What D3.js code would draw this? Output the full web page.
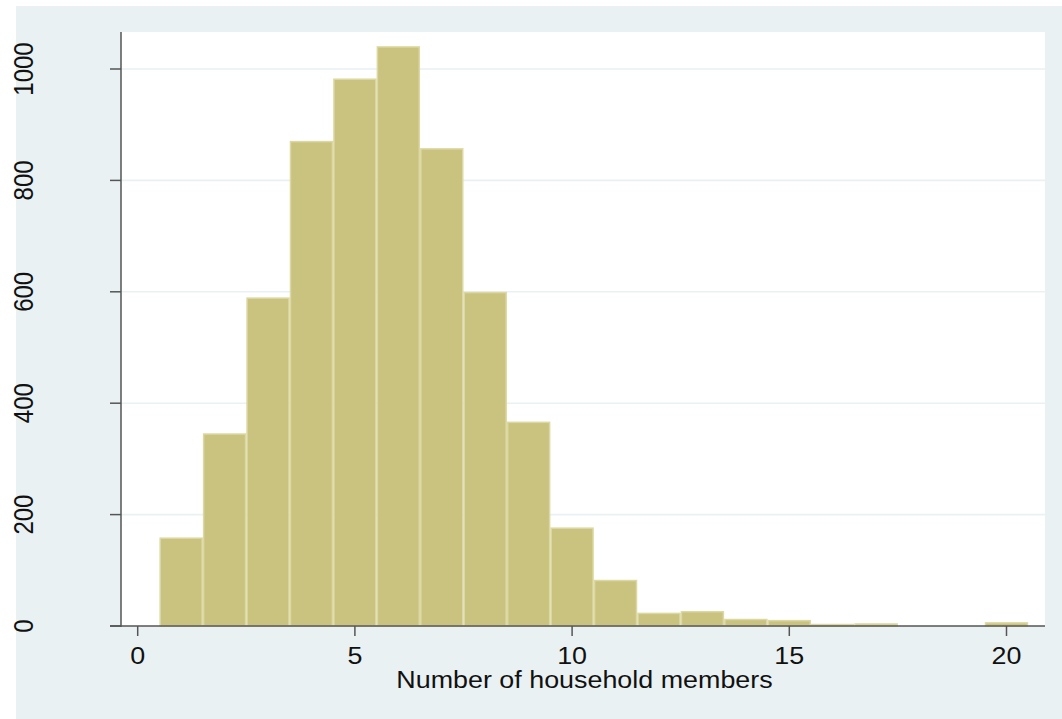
<!DOCTYPE html>
<html><head><meta charset="utf-8">
<script src="https://cdn.jsdelivr.net/npm/d3@7"></script>
<style>body{margin:0;background:#fff}svg{display:block}</style>
</head><body><svg id="c" width="1062" height="719"></svg>
<script>
const binCenters = [1,2,3,4,5,6,7,8,9,10,11,12,13,14,15,16,17,18,19,20];
const counts = [159,346,590,871,983,1041,858,600,367,177,83,24,27,13,11,4,5,0,0,7];
const xTicks = [0,5,10,15,20];
const yTicks = [0,200,400,600,800,1000];
const xTitle = "Number of household members";

const svg = d3.select("#c");
const x = d3.scaleLinear().domain([0,20]).range([137.7,1006.5]);
const y = d3.scaleLinear().domain([0,1000]).range([626,69]);
const plot = {l:121, r:1045, t:32, b:626};
const font = "'Liberation Sans', Arial, sans-serif";
const sx = 1.12;

svg.append("rect").attr("x",16).attr("y",6).attr("width",1046).attr("height",713).attr("fill","#EAF1F3");
svg.append("rect").attr("x",plot.l).attr("y",plot.t).attr("width",plot.r-plot.l).attr("height",plot.b-plot.t).attr("fill","#fff");

// gridlines
svg.append("g").selectAll("line").data(yTicks.filter(d=>d>0)).join("line")
  .attr("x1",plot.l).attr("x2",plot.r).attr("y1",d=>y(d)).attr("y2",d=>y(d))
  .attr("stroke","#E9F1F3").attr("stroke-width",1.6);

// bars
svg.append("g").selectAll("rect").data(binCenters.map((c,i)=>({c,v:counts[i]})).filter(d=>d.v>0)).join("rect")
  .attr("x",d=>x(d.c-0.5)+0.75).attr("width",d=>x(d.c+0.5)-x(d.c-0.5)-1.5)
  .attr("y",d=>y(d.v)+0.75).attr("height",d=>Math.max(0,y(0)-y(d.v)-0.75))
  .attr("fill","#CAC37F").attr("stroke","#DCD8A3").attr("stroke-width",1.5);

// axes
const ax = svg.append("g").attr("stroke","#555").attr("stroke-width",1.5);
ax.append("line").attr("x1",plot.l).attr("x2",plot.l).attr("y1",plot.t).attr("y2",plot.b+0.75);
ax.append("line").attr("x1",110).attr("x2",plot.r).attr("y1",plot.b).attr("y2",plot.b);
ax.selectAll(".yt").data(yTicks).join("line").attr("x1",110).attr("x2",plot.l).attr("y1",d=>y(d)).attr("y2",d=>y(d));
ax.selectAll(".xt").data(xTicks).join("line").attr("x1",d=>x(d)).attr("x2",d=>x(d)).attr("y1",plot.b).attr("y2",636);

// tick labels
svg.append("g").selectAll("text").data(xTicks).join("text")
  .attr("transform",d=>`translate(${x(d)},664) scale(${sx},1)`)
  .attr("text-anchor","middle").attr("font-family",font).attr("font-size",24).attr("fill","#111")
  .text(d=>d);
svg.append("g").selectAll("text").data(yTicks).join("text")
  .attr("transform",d=>`translate(32.5,${y(d)}) scale(${sx},1) rotate(-90)`)
  .attr("text-anchor","middle").attr("font-family",font).attr("font-size",24).attr("fill","#111")
  .text(d=>d);
svg.append("text").attr("transform",`translate(584.5,688) scale(${sx},1)`)
  .attr("text-anchor","middle").attr("font-family",font).attr("font-size",24).attr("fill","#111")
  .text(xTitle);
</script></body></html>
